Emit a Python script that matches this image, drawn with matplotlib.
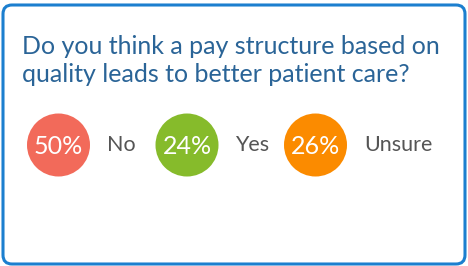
import matplotlib
matplotlib.use("Agg")
import matplotlib.pyplot as plt
from matplotlib.patches import Circle, FancyBboxPatch

title_lines = ["Do you think a pay structure based on",
               "quality leads to better patient care?"]
categories = ["No", "Yes", "Unsure"]
values = [50, 24, 26]
colors = ["#f26a5a", "#86bb2b", "#fb8b00"]

W, H = 468, 266
fig = plt.figure(figsize=(W / 100, H / 100), dpi=100)
ax = fig.add_axes([0, 0, 1, 1])
ax.set_xlim(0, W)
ax.set_ylim(H, 0)
ax.axis("off")

box = FancyBboxPatch((3, 5), 462, 259, boxstyle="round,pad=0,rounding_size=9",
                     fill=False, edgecolor="#1c7fcf", linewidth=2.2)
ax.add_patch(box)

for j, line in enumerate(title_lines):
    ax.text(22, 54 + j * 28.5, line, fontsize=18, color="#2a6497", family="Lato",
            va="baseline", ha="left")

x0, step, cy, r = 58.5, 128.5, 145, 31.5
for i, (cat, v, c) in enumerate(zip(categories, values, colors)):
    cx = x0 + i * step
    ax.add_patch(Circle((cx, cy), r, color=c, linewidth=0))
    ax.text(cx, cy + 1, f"{v}%", fontsize=18, color="white", family="Lato",
            ha="center", va="center")
    ax.text(cx + r + 17, cy, cat, fontsize=15.5, color="#555555", family="Lato",
            ha="left", va="center")

fig.savefig("out.png", dpi=100)
